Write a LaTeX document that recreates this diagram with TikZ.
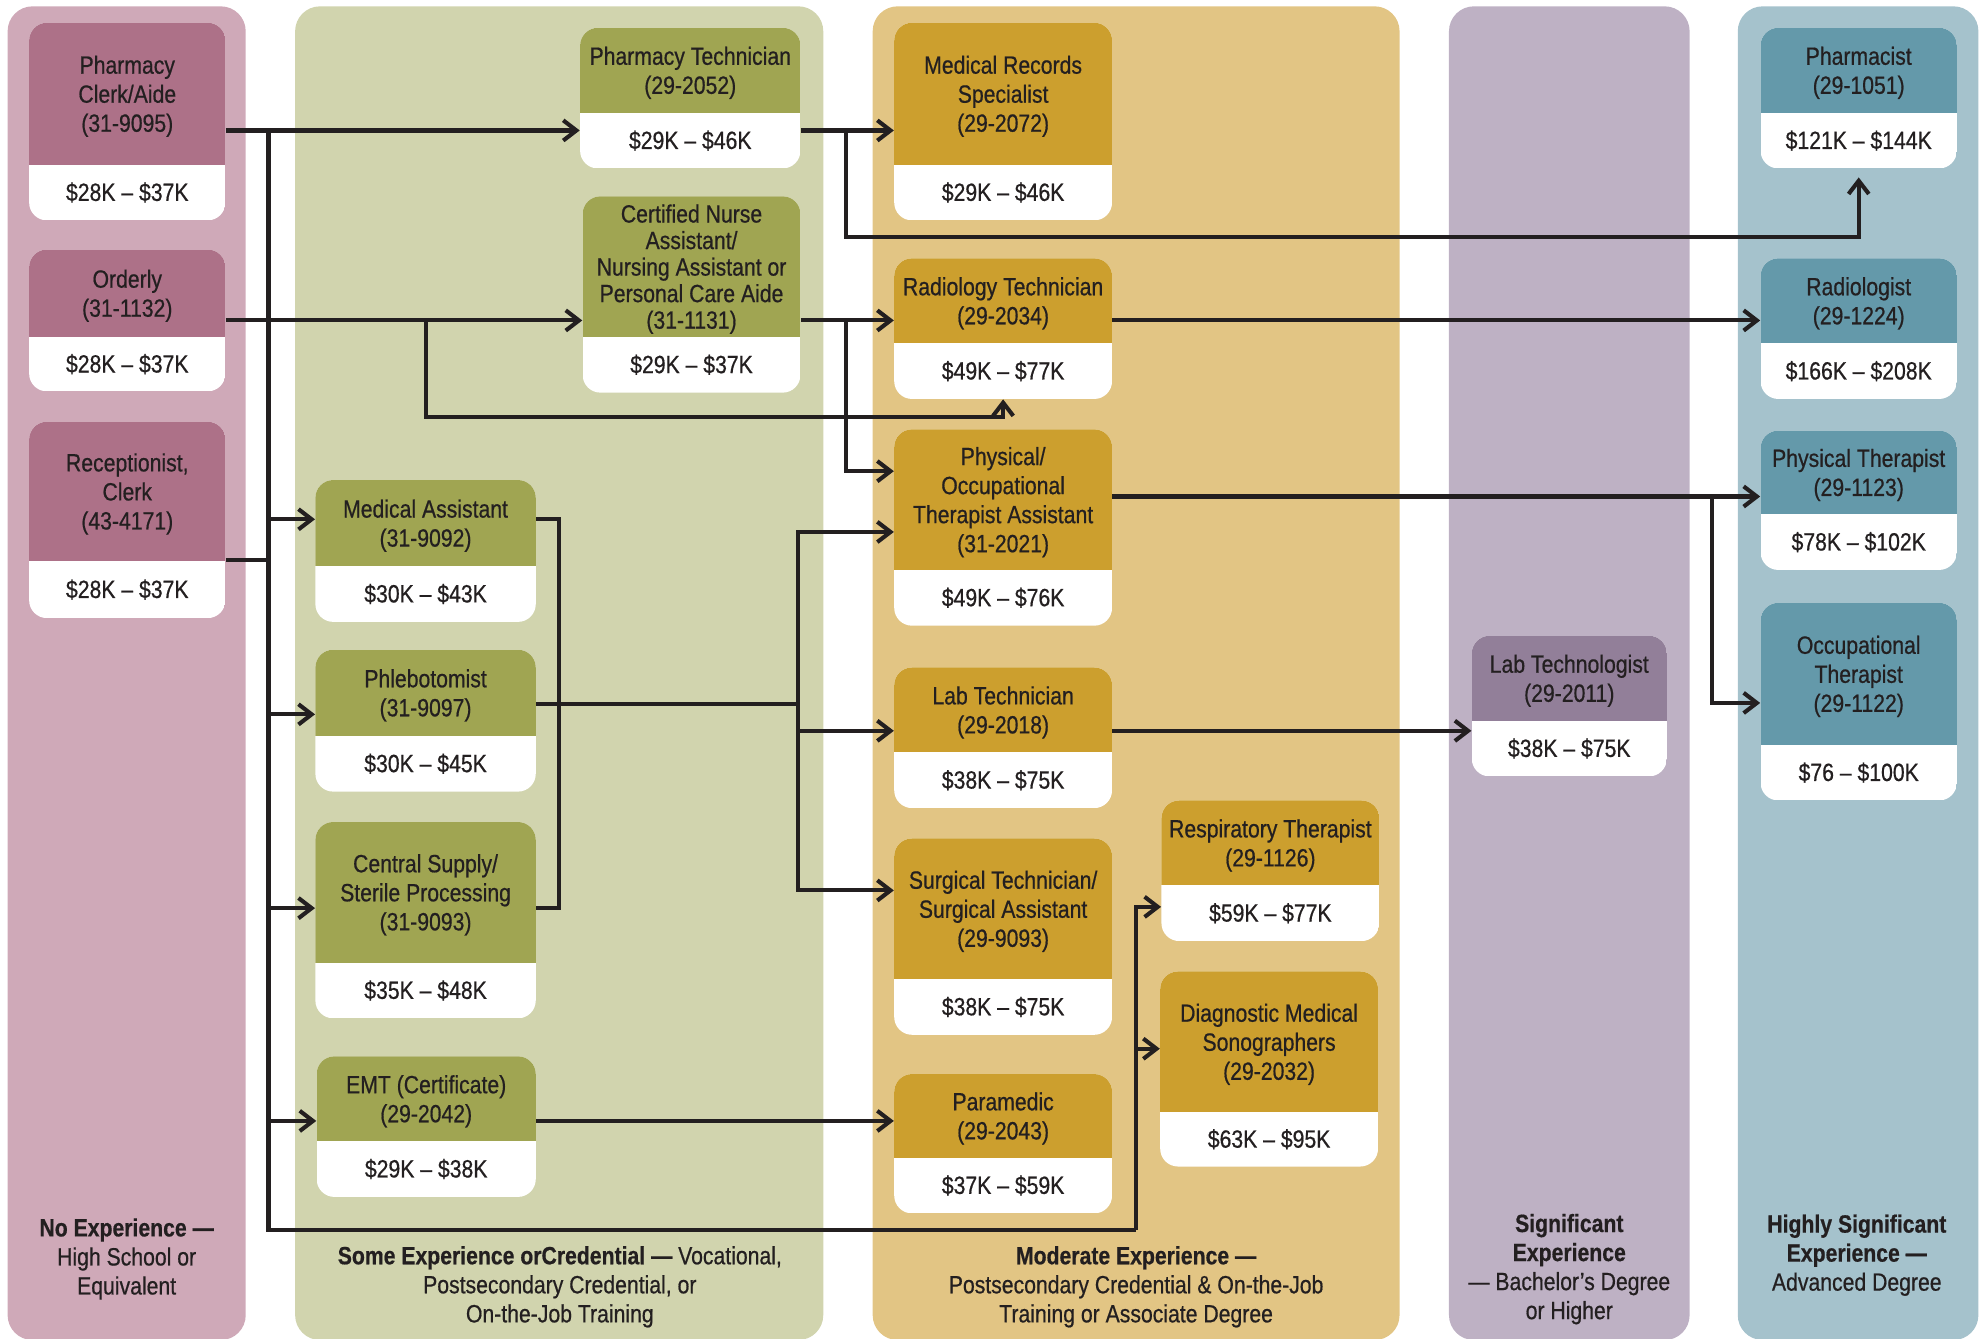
\documentclass[tikz,border=0pt]{standalone}
\usepackage{fontspec}
\setmainfont{Liberation Sans}[FakeStretch=0.85, FakeBold=0.6]
\usepackage{tikz}
\usetikzlibrary{arrows.meta, fit}

\definecolor{pinkbg}{HTML}{CFA9B8}
\definecolor{pinkhd}{HTML}{AD7188}
\definecolor{greenbg}{HTML}{D1D4AE}
\definecolor{greenhd}{HTML}{A0A552}
\definecolor{goldbg}{HTML}{E2C584}
\definecolor{goldhd}{HTML}{CC9F2E}
\definecolor{plumbg}{HTML}{BEB1C4}
\definecolor{plumhd}{HTML}{927F99}
\definecolor{tealbg}{HTML}{A5C2CC}
\definecolor{tealhd}{HTML}{6499AA}
\definecolor{ink}{HTML}{231F20}

% job box: name, left, right, top, header bottom, bottom, colour, title, pay
\newcommand{\jobbox}[9]{%
  \begin{scope}
    \clip[rounded corners=10pt] (#2,#4) rectangle (#3,#6);
    \fill[white] (#2,#4) rectangle (#3,#6);
    \fill[#7] (#2,#4) rectangle (#3,#5);
  \end{scope}
  \coordinate (#1nw) at (#2,#4);
  \coordinate (#1se) at (#3,#6);
  \node[fit=(#1nw)(#1se), inner sep=0pt] (#1) {};
  \node[jobtitle] (#1t) at ({(#2+#3)/2},{(#4+#5)/2+2}) {#8};
  \node[jobpay] (#1p) at ({(#2+#3)/2},{(#5+#6)/2}) {#9};
}

\begin{document}
\begin{tikzpicture}[x=0.025cm, y=-0.025cm,
    jobtitle/.style={align=center, text=ink, inner sep=0pt, font=\fontsize{14}{16.3}\selectfont},
    jobpay/.style={text=ink, inner sep=0pt, font=\fontsize{14}{16.3}\selectfont},
    foot/.style={align=center, text=ink, inner sep=0pt, font=\fontsize{14}{16.3}\selectfont},
    wire/.style={draw=ink, line width=2.3pt},
    flow/.style={wire, -{Straight Barb[length=2.6mm, width=4mm]}}]
  \useasboundingbox (0,0) rectangle (1568,1057);

  % Experience columns
  \foreach \xa/\xb/\col in {6/194/pinkbg, 233/650/greenbg, 689/1105/goldbg, 1144/1334/plumbg, 1372/1562/tealbg} {
    \fill[\col, rounded corners=14pt] (\xa,5) rectangle (\xb,1058);
  }

  % No experience
  \jobbox{clerk}{23}{178}{18}{130}{174}{pinkhd}{Pharmacy\\Clerk/Aide\\(31-9095)}{\$28K – \$37K}
  \jobbox{orderly}{23}{178}{197}{266}{309}{pinkhd}{Orderly\\(31-1132)}{\$28K – \$37K}
  \jobbox{recep}{23}{178}{333}{443}{488}{pinkhd}{Receptionist,\\Clerk\\(43-4171)}{\$28K – \$37K}

  % Some experience
  \jobbox{ptech}{458}{632}{22}{89}{133}{greenhd}{Pharmacy Technician\\(29-2052)}{\$29K – \$46K}
  \jobbox{cna}{460}{632}{155}{266}{310}{greenhd}{Certified Nurse\\[-1.4pt]Assistant/\\[-1.4pt]Nursing Assistant or\\[-1.4pt]Personal Care Aide\\[-1.4pt](31-1131)}{\$29K – \$37K}
  \jobbox{medasst}{249}{423}{379}{447}{491}{greenhd}{Medical Assistant\\(31-9092)}{\$30K – \$43K}
  \jobbox{phleb}{249}{423}{513}{581}{625}{greenhd}{Phlebotomist\\(31-9097)}{\$30K – \$45K}
  \jobbox{supply}{249}{423}{649}{760}{804}{greenhd}{Central Supply/\\Sterile Processing\\(31-9093)}{\$35K – \$48K}
  \jobbox{emt}{250}{423}{834}{901}{945}{greenhd}{EMT (Certificate)\\(29-2042)}{\$29K – \$38K}

  % Moderate experience
  \jobbox{records}{706}{878}{18}{130}{174}{goldhd}{Medical Records\\Specialist\\(29-2072)}{\$29K – \$46K}
  \jobbox{radtech}{706}{878}{204}{271}{315}{goldhd}{Radiology Technician\\(29-2034)}{\$49K – \$77K}
  \jobbox{pta}{706}{878}{339}{450}{494}{goldhd}{Physical/\\Occupational\\Therapist Assistant\\(31-2021)}{\$49K – \$76K}
  \jobbox{labtech}{706}{878}{527}{594}{638}{goldhd}{Lab Technician\\(29-2018)}{\$38K – \$75K}
  \jobbox{surgtech}{706}{878}{662}{773}{817}{goldhd}{Surgical Technician/\\Surgical Assistant\\(29-9093)}{\$38K – \$75K}
  \jobbox{medic}{706}{878}{848}{914}{958}{goldhd}{Paramedic\\(29-2043)}{\$37K – \$59K}
  \jobbox{resp}{917}{1089}{632}{699}{743}{goldhd}{Respiratory Therapist\\(29-1126)}{\$59K – \$77K}
  \jobbox{sono}{916}{1088}{767}{878}{921}{goldhd}{Diagnostic Medical\\Sonographers\\(29-2032)}{\$63K – \$95K}

  % Significant experience
  \jobbox{labsci}{1162}{1316}{502}{569}{613}{plumhd}{Lab Technologist\\(29-2011)}{\$38K – \$75K}

  % Highly significant experience
  \jobbox{pharm}{1390}{1545}{22}{89}{133}{tealhd}{Pharmacist\\(29-1051)}{\$121K – \$144K}
  \jobbox{radiol}{1390}{1545}{204}{271}{315}{tealhd}{Radiologist\\(29-1224)}{\$166K – \$208K}
  \jobbox{physther}{1390}{1545}{340}{406}{450}{tealhd}{Physical Therapist\\(29-1123)}{\$78K – \$102K}
  \jobbox{occther}{1390}{1545}{476}{588}{632}{tealhd}{Occupational\\Therapist\\(29-1122)}{\$76 – \$100K}

  % Column labels
  \node[foot] (nolab) at (100,994) {{\bfseries No Experience —}\\High School or\\Equivalent};
  \node[foot] (somelab) at (442,1016) {{\bfseries Some Experience orCredential —} Vocational,\\Postsecondary Credential, or\\On-the-Job Training};
  \node[foot] (modlab) at (897,1016) {{\bfseries Moderate Experience —}\\Postsecondary Credential \& On-the-Job\\Training or Associate Degree};
  \node[foot] (siglab) at (1239,1002) {{\bfseries Significant}\\{\bfseries Experience}\\— Bachelor’s Degree\\or Higher};
  \node[foot] (highlab) at (1466,991) {{\bfseries Highly Significant}\\{\bfseries Experience —}\\Advanced Degree};

  % Junction points
  \coordinate (spine) at (212,103);
  \coordinate (spinebot) at (212,971);
  \coordinate (riser) at (897,971);
  \coordinate (jog) at (336,253);
  \coordinate (bracket) at (441,556);
  \coordinate (hub) at (630,556);
  \coordinate (fork1) at (668,103);
  \coordinate (fork2) at (668,253);
  \coordinate (fork3) at (1352,392);

  % Entry level paths
  \draw[flow] (clerk.east |- 0,103) -- (ptech.west |- 0,103);
  \draw[flow] (orderly.east |- 0,253) -- (cna.west |- 0,253);
  \draw[wire] (recep.east |- 0,442) -- (spine |- 0,442);
  \draw[wire] (spine) -- (spinebot) -- (riser);
  \foreach \job/\y in {medasst/410, phleb/564, supply/717, emt/885} {
    \draw[flow] (spine |- 0,\y) -- (\job.west |- 0,\y);
  }
  \draw[flow] (riser) |- (resp.west |- 0,716);
  \draw[flow] (riser |- 0,828) -- (sono.west |- 0,828);
  \draw[flow] (jog) |- (radtech.south |- 0,329) -- (radtech.south);

  % Some experience paths
  \draw[wire] (medasst.east |- 0,410) -| (bracket) |- (supply.east |- 0,717);
  \draw[wire] (phleb.east |- 0,556) -- (hub);
  \draw[flow] (hub) |- (pta.west |- 0,420);
  \draw[flow] (hub) |- (surgtech.west |- 0,703);
  \draw[flow] (hub |- 0,577) -- (labtech.west |- 0,577);
  \draw[flow] (ptech.east |- 0,103) -- (records.west |- 0,103);
  \draw[flow] (fork1) |- (pharm.south |- 0,187) -- ([yshift=-0.17cm]pharm.south);
  \draw[flow] (cna.east |- 0,253) -- (radtech.west |- 0,253);
  \draw[flow] (fork2) |- (pta.west |- 0,372);
  \draw[flow] (emt.east |- 0,885) -- (medic.west |- 0,885);

  % Moderate experience paths
  \draw[flow] (radtech.east |- 0,253) -- (radiol.west |- 0,253);
  \draw[flow] (pta.east |- 0,392) -- (physther.west |- 0,392);
  \draw[flow] (fork3) |- (occther.west |- 0,555);
  \draw[flow] (labtech.east |- 0,577) -- (labsci.west |- 0,577);
\end{tikzpicture}
\end{document}
